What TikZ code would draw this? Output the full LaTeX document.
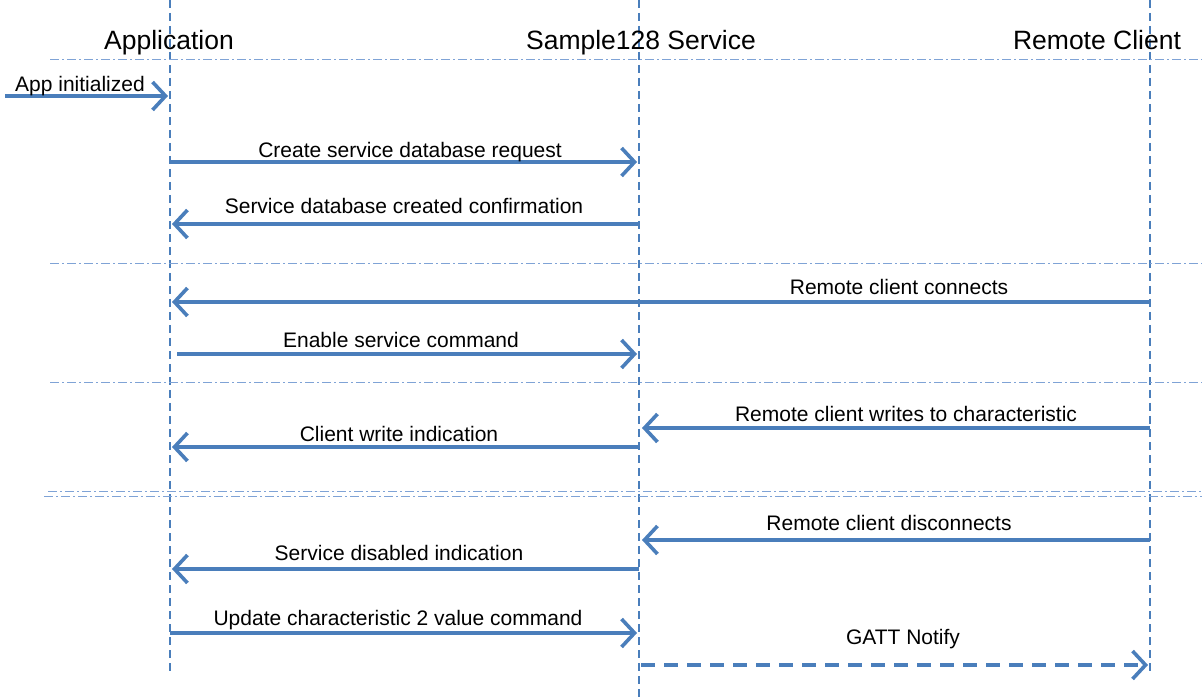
\documentclass[tikz,border=0pt]{standalone}
\usepackage{fontspec}
\setmainfont{Liberation Sans}
\usetikzlibrary{arrows.meta}
\definecolor{arrowblue}{HTML}{4A7EBB}
\definecolor{sepblue}{HTML}{7FA3D6}
\begin{document}
\begin{tikzpicture}[x=1pt,y=-1pt,
  lifeline/.style={draw=arrowblue, line width=2.2pt, dash pattern=on 8pt off 5pt},
  sepline/.style={draw=sepblue, line width=1pt, dash pattern=on 9pt off 3pt on 2pt off 3pt},
  msg/.style={draw=arrowblue, line width=3.4pt, -{Straight Barb[length=13pt,width=28pt,line width=3.6pt]}},
  dmsg/.style={msg, dash pattern=on 14pt off 9pt},
  hdr/.style={font=\fontsize{26.5}{30}\selectfont, inner sep=0pt, anchor=base},
  lbl/.style={font=\fontsize{21}{25}\selectfont, inner sep=0pt, anchor=base}]
\useasboundingbox (0,0) rectangle (1202,700);
% lifelines
\coordinate (Atop) at (170,0); \coordinate (Abot) at (170,673);
\coordinate (Stop) at (639,0); \coordinate (Sbot) at (639,700);
\coordinate (Rtop) at (1150,0); \coordinate (Rbot) at (1150,672);
\draw[lifeline] (Atop) -- (Abot);
\draw[lifeline] (Stop) -- (Sbot);
\draw[lifeline] (Rtop) -- (Rbot);
% separators
\coordinate (s1a) at (50,60); \coordinate (s1b) at (1202,60);
\coordinate (s2a) at (50,264); \coordinate (s2b) at (1202,264);
\coordinate (s3a) at (50,383); \coordinate (s3b) at (1202,383);
\coordinate (s4a) at (48,491); \coordinate (s4b) at (1202,491);
\coordinate (s5a) at (44,496); \coordinate (s5b) at (1202,496);
\draw[sepline] (s1a) -- (s1b);
\draw[sepline] (s2a) -- (s2b);
\draw[sepline] (s3a) -- (s3b);
\draw[sepline] (s4a) -- (s4b);
\draw[sepline] (s5a) -- (s5b);
% headers
\node[hdr] (hA) at (169,50) {Application};
\node[hdr] (hS) at (641,50) {Sample128 Service};
\node[hdr] (hR) at (1097,50) {Remote Client};
% messages
\coordinate (m0a) at (5,96); \coordinate (m0b) at (168,96);
\draw[msg] (m0a) -- (m0b);
\node[lbl] (l0) at (80,92) {App initialized};

\coordinate (m1a) at (170,162); \coordinate (m1b) at (637,162);
\draw[msg] (m1a) -- (m1b);
\node[lbl] (l1) at (410,158) {Create service database request};

\coordinate (m2a) at (639,224); \coordinate (m2b) at (172,224);
\draw[msg] (m2a) -- (m2b);
\node[lbl] (l2) at (404,214) {Service database created confirmation};

\coordinate (m3a) at (1150,302); \coordinate (m3b) at (172,302);
\draw[msg] (m3a) -- (m3b);
\node[lbl] (l3) at (899,295) {Remote client connects};

\coordinate (m4a) at (177,354); \coordinate (m4b) at (637,354);
\draw[msg] (m4a) -- (m4b);
\node[lbl] (l4) at (401,348) {Enable service command};

\coordinate (m5a) at (1150,428); \coordinate (m5b) at (642,428);
\draw[msg] (m5a) -- (m5b);
\node[lbl] (l5) at (906,421) {Remote client writes to characteristic};

\coordinate (m6a) at (639,447); \coordinate (m6b) at (172,447);
\draw[msg] (m6a) -- (m6b);
\node[lbl] (l6) at (399,441) {Client write indication};

\coordinate (m7a) at (1150,540); \coordinate (m7b) at (642,540);
\draw[msg] (m7a) -- (m7b);
\node[lbl] (l7) at (889,530) {Remote client disconnects};

\coordinate (m8a) at (639,569); \coordinate (m8b) at (172,569);
\draw[msg] (m8a) -- (m8b);
\node[lbl] (l8) at (399,560) {Service disabled indication};

\coordinate (m9a) at (170,633); \coordinate (m9b) at (637,633);
\draw[msg] (m9a) -- (m9b);
\node[lbl] (l9) at (398,625) {Update characteristic 2 value command};

\coordinate (m10a) at (641,665); \coordinate (m10b) at (1148,665);
\draw[dmsg] (m10a) -- (m10b);
\node[lbl] (l10) at (903,644) {GATT Notify};
\end{tikzpicture}
\end{document}
